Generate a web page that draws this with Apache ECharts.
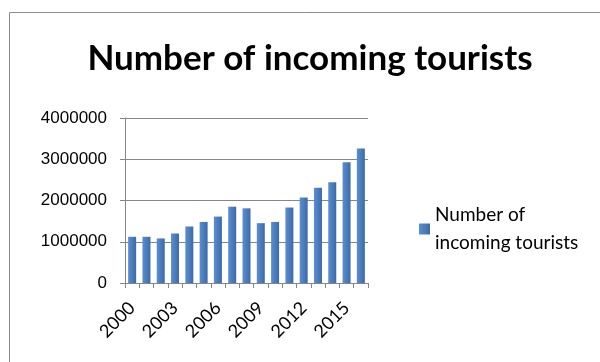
<!DOCTYPE html>
<html>
<head>
<meta charset="utf-8">
<script src="https://cdn.jsdelivr.net/npm/echarts@6/dist/echarts.min.js"></script>
<style>
  html, body { margin: 0; padding: 0; background: #fff; }
  #box { width: 600px; height: 362px; }
</style>
</head>
<body>
<div id="box"></div>
<script>
var chart = echarts.init(document.getElementById('box'));

var years = ['2000', '2001', '2002', '2003', '2004', '2005', '2006', '2007', '2008',
  '2009', '2010', '2011', '2012', '2013', '2014', '2015', '2016'];
var tourists = [1120000, 1120000, 1080000, 1200000, 1370000, 1480000, 1610000, 1850000, 1810000,
  1450000, 1480000, 1830000, 2070000, 2310000, 2440000, 2930000, 3260000];
var seriesName = 'Number of incoming tourists';

var option = {
  animation: false,
  title: {
    text: 'Number of incoming tourists',
    left: 305,
    top: 36,
    textAlign: 'center',
    textStyle: { fontFamily: 'Lato', fontWeight: 'bold', fontSize: 35, color: '#000' }
  },
  graphic: [{
    type: 'rect',
    shape: { x: 9.5, y: 12.5, width: 700, height: 400 },
    style: { fill: 'none', stroke: '#8c8c8c', lineWidth: 1 }
  }],
  legend: {
    left: 414,
    top: 196,
    orient: 'vertical',
    itemWidth: 11,
    itemHeight: 11,
    itemGap: 6,
    icon: 'rect',
    data: [seriesName],
    formatter: function () { return 'Number of\nincoming tourists'; },
    textStyle: { fontFamily: 'Lato', fontSize: 19, color: '#000', lineHeight: 28 }
  },
  grid: { left: 125, right: 232, top: 118, bottom: 79 },
  xAxis: {
    type: 'category',
    data: years,
    axisLine: { lineStyle: { color: '#868686' } },
    axisTick: { show: true, interval: 0, length: 5, lineStyle: { color: '#868686' } },
    axisLabel: {
      interval: 2,
      rotate: 45,
      margin: 22,
      fontFamily: 'Lato',
      fontSize: 18,
      color: '#000'
    }
  },
  yAxis: {
    type: 'value',
    min: 0,
    max: 4000000,
    interval: 1000000,
    axisLine: { show: true, lineStyle: { color: '#868686' } },
    axisTick: { show: true, length: 5, lineStyle: { color: '#868686' } },
    splitLine: { lineStyle: { color: '#868686', width: 1 } },
    axisLabel: {
      fontFamily: 'Liberation Sans',
      fontSize: 17,
      color: '#000',
      margin: 18,
      formatter: function (v) { return String(v); }
    }
  },
  series: [{
    name: seriesName,
    type: 'bar',
    data: tourists,
    barWidth: 8,
    itemStyle: {
      color: new echarts.graphic.LinearGradient(0, 0, 1, 0, [
        { offset: 0, color: '#5b8fd0' },
        { offset: 1, color: '#3b6aa8' }
      ])
    }
  }]
};

chart.setOption(option);
</script>
</body>
</html>
